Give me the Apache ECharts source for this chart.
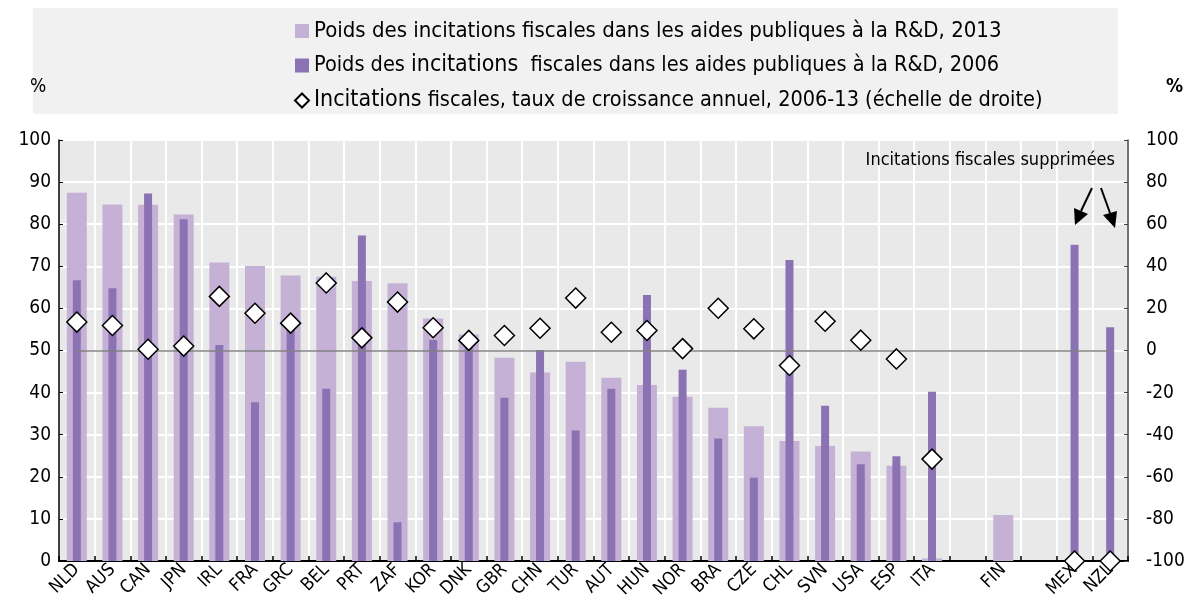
<!DOCTYPE html>
<html>
<head>
<meta charset="utf-8">
<script src="https://cdn.jsdelivr.net/npm/echarts@6/dist/echarts.min.js"></script>
<style>
  html, body { margin: 0; padding: 0; background: #fff; }
  #chart { width: 1191px; height: 606px; }
</style>
</head>
<body>
<div id="chart"></div>
<script>
// pays (deux catégories vides : après ITA et après FIN)
const categories = ['NLD', 'AUS', 'CAN', 'JPN', 'IRL', 'FRA', 'GRC', 'BEL', 'PRT', 'ZAF',
  'KOR', 'DNK', 'GBR', 'CHN', 'TUR', 'AUT', 'HUN', 'NOR', 'BRA', 'CZE',
  'CHL', 'SVN', 'USA', 'ESP', 'ITA', '', 'FIN', ' ', 'MEX', 'NZL']

// poids des incitations fiscales, 2013 (%)
const share2013 = [87.5, 84.7, 84.6, 82.3, 70.9, 70.1, 67.8, 67.5, 66.5, 66.0,
  57.6, 53.8, 48.3, 44.8, 47.3, 43.5, 41.8, 39.0, 36.4, 32.0,
  28.5, 27.3, 26.0, 22.6, 0.6, null, 10.9, null, null, null]

// poids des incitations fiscales, 2006 (%)
const share2006 = [66.7, 64.8, 87.3, 81.2, 51.3, 37.7, 55.0, 40.9, 77.3, 9.2,
  52.5, 52.0, 38.8, 50.1, 31.0, 40.9, 63.2, 45.4, 29.1, 19.8,
  71.5, 36.9, 23.0, 24.9, 40.2, null, null, null, 75.1, 55.5]

// taux de croissance annuel 2006-13 (échelle de droite)
const growth = [13.5, 11.9, 0.6, 2.1, 25.7, 17.7, 13.0, 32.1, 6.0, 23.0,
  10.8, 4.8, 7.1, 10.6, 24.9, 8.7, 9.5, 0.9, 20.1, 10.3,
  -7.1, 13.9, 4.9, -4.0, -51.6, null, null, null, -100, -100]

const leftTicks = { min: 0, max: 100, interval: 10 }
const rightTicks = { min: -100, max: 100, interval: 20 }

const name2013 = 'Poids des incitations fiscales dans les aides publiques à la R&D, 2013'
const name2006 = 'Poids des incitations  fiscales dans les aides publiques à la R&D, 2006'
const nameGrowth = 'Incitations fiscales, taux de croissance annuel, 2006-13 (échelle de droite)'

const FONT = '"DejaVu Sans Condensed", "Liberation Sans Narrow", sans-serif'
const LIGHT = '#c6b1d6'
const DARK = '#8b72b3'

const chart = echarts.init(document.getElementById('chart'))

chart.setOption({
  animation: false,
  textStyle: { fontFamily: FONT, color: '#000' },
  grid: {
    left: 59,
    right: 63,
    top: 140,
    bottom: 45,
    show: true,
    backgroundColor: '#e9e9e9',
    borderWidth: 0,
  },
  legend: {
    orient: 'vertical',
    left: 289,
    top: 15,
    itemGap: 12,
    itemWidth: 14,
    itemHeight: 14,
    selectedMode: false,
    textStyle: {
      fontFamily: FONT,
      fontSize: 22,
      color: '#000',
      rich: {
        big: { fontFamily: FONT, fontSize: 23, color: '#000' },
        sm: { fontFamily: FONT, fontSize: 21.5, color: '#000' },
      },
    },
    formatter: (n) => {
      if (n === name2006) return '{sm|Poids des }{big|incitations}{sm|  fiscales dans les aides publiques à la R&D, 2006}'
      if (n === nameGrowth) return '{big|Incitations}{sm| fiscales, taux de croissance annuel, 2006-13 (échelle de droite)}'
      return n
    },
    data: [
      { name: name2013, icon: 'rect' },
      { name: name2006, icon: 'rect' },
      { name: nameGrowth, icon: 'diamond' },
    ],
  },
  graphic: [
    {
      type: 'rect',
      z: -10,
      shape: { x: 33, y: 8, width: 1085, height: 106 },
      style: { fill: '#f1f1f1' },
    },
    {
      type: 'text',
      left: 30,
      top: 78,
      style: { text: '%', fontFamily: FONT, fontSize: 19, fill: '#000' },
    },
    {
      type: 'text',
      left: 1166,
      top: 78,
      style: { text: '%', fontFamily: FONT, fontSize: 19, fontWeight: 'bold', fill: '#000' },
    },
    {
      type: 'text',
      x: 1115,
      y: 151,
      z: 20,
      style: {
        text: 'Incitations fiscales supprimées',
        fontFamily: FONT,
        fontSize: 18,
        fill: '#000',
        align: 'right',
        verticalAlign: 'top',
      },
    },
    // flèches
    {
      type: 'line', z: 20,
      shape: { x1: 1092, y1: 188, x2: 1081, y2: 211 },
      style: { stroke: '#000', lineWidth: 2 },
    },
    {
      type: 'polygon', z: 20,
      shape: { points: [[1075, 225], [1074, 208], [1088, 214]] },
      style: { fill: '#000' },
    },
    {
      type: 'line', z: 20,
      shape: { x1: 1101, y1: 188, x2: 1110, y2: 213 },
      style: { stroke: '#000', lineWidth: 2 },
    },
    {
      type: 'polygon', z: 20,
      shape: { points: [[1115, 228], [1103, 215], [1117, 211]] },
      style: { fill: '#000' },
    },
  ],
  xAxis: [
    {
      type: 'category',
      data: categories,
      axisLine: { lineStyle: { color: '#000', width: 2 } },
      axisTick: { show: true, inside: true, length: 5, interval: 0, lineStyle: { color: '#000', width: 1.5 } },
      axisLabel: { interval: 0, rotate: 45, fontSize: 18, fontFamily: FONT, color: '#000', margin: 6 },
      splitLine: { show: true, interval: 0, lineStyle: { color: '#fff', width: 2 } },
    },
    {
      type: 'category',
      data: categories,
      show: false,
    },
  ],
  yAxis: [
    {
      type: 'value',
      ...leftTicks,
      position: 'left',
      axisLine: { show: true, lineStyle: { color: '#000', width: 1.5 } },
      axisTick: { show: true, inside: true, length: 4, lineStyle: { color: '#000' } },
      axisLabel: { fontSize: 19, fontFamily: FONT, color: '#000', margin: 8 },
      splitLine: { show: true, lineStyle: { color: '#fff', width: 2 } },
    },
    {
      type: 'value',
      ...rightTicks,
      position: 'right',
      axisLine: { show: true, lineStyle: { color: '#444', width: 1.5 } },
      axisTick: { show: true, inside: true, length: 4, lineStyle: { color: '#444' } },
      axisLabel: { fontSize: 19, fontFamily: FONT, color: '#000', margin: 18 },
      splitLine: { show: false },
    },
  ],
  series: [
    {
      name: name2013,
      type: 'bar',
      xAxisIndex: 0,
      yAxisIndex: 0,
      barWidth: 20,
      z: 2,
      itemStyle: { color: LIGHT },
      data: share2013,
    },
    {
      name: name2006,
      type: 'bar',
      xAxisIndex: 1,
      yAxisIndex: 0,
      barWidth: 8,
      z: 3,
      itemStyle: { color: DARK },
      data: share2006,
    },
    {
      name: nameGrowth,
      type: 'scatter',
      xAxisIndex: 0,
      yAxisIndex: 1,
      symbol: 'diamond',
      symbolSize: 20,
      clip: false,
      z: 10,
      itemStyle: { color: '#fff', borderColor: '#000', borderWidth: 1.5, opacity: 1 },
      data: growth,
      markLine: {
        silent: true,
        symbol: 'none',
        z: 4,
        label: { show: false },
        lineStyle: { color: '#808080', width: 1.5, type: 'solid' },
        data: [[{ coord: ['NLD', 0] }, { coord: ['NZL', 0] }]],
      },
    },
  ],
})
</script>
</body>
</html>
